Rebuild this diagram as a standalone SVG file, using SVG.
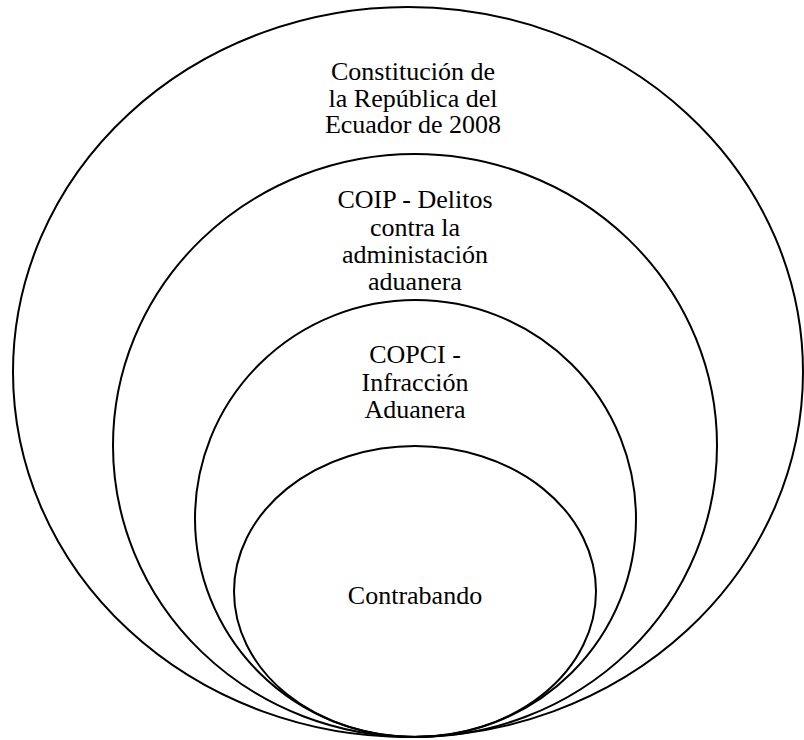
<svg xmlns="http://www.w3.org/2000/svg" width="804" height="740" viewBox="0 0 804 740">
<style>
.ring{fill:none;stroke:#000;stroke-width:2}
.lbl{font-family:'Liberation Serif','DejaVu Serif',serif;font-size:26px;fill:#000;text-anchor:middle}
</style>
<rect width="804" height="740" fill="#fff"/>
<g id="n1"><ellipse class="ring" cx="408" cy="372" rx="395" ry="365"/>
<text class="lbl"><tspan x="413" y="80">Constitución de</tspan><tspan x="413" y="106.5">la República del</tspan><tspan x="413" y="133">Ecuador de 2008</tspan></text></g>
<g id="n2"><ellipse class="ring" cx="415" cy="445.5" rx="302" ry="291.5"/>
<text class="lbl"><tspan x="415" y="208">COIP - Delitos</tspan><tspan x="415" y="235.5">contra la</tspan><tspan x="415" y="262.5">administación</tspan><tspan x="415" y="289.5">aduanera</tspan></text></g>
<g id="n3"><ellipse class="ring" cx="415.5" cy="518.5" rx="220.5" ry="218.5"/>
<text class="lbl"><tspan x="415" y="363">COPCI -</tspan><tspan x="415" y="391">Infracción</tspan><tspan x="415" y="418">Aduanera</tspan></text></g>
<g id="n4"><ellipse class="ring" cx="415" cy="591.5" rx="181" ry="145.5"/>
<text class="lbl" x="415" y="604">Contrabando</text></g>
<g id="connectors"/>
</svg>
